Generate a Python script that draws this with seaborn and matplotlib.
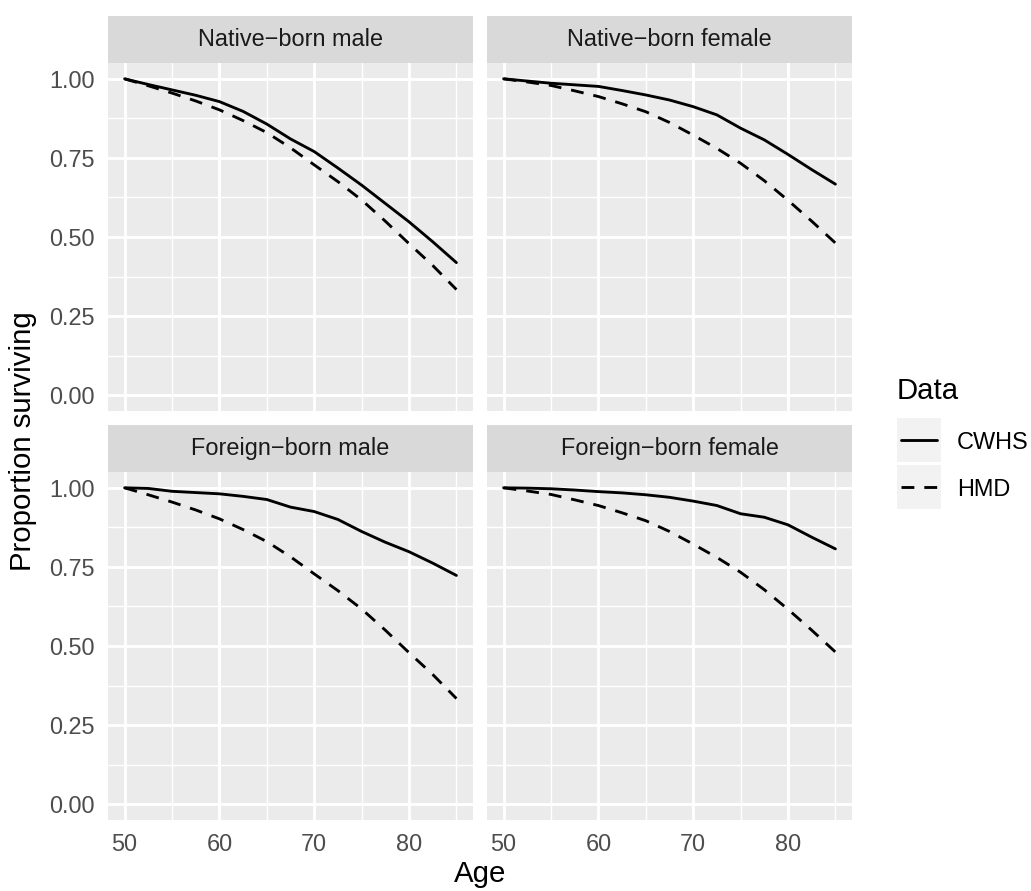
import numpy as np
import pandas as pd
import matplotlib
matplotlib.use("Agg")
import matplotlib.pyplot as plt
from matplotlib.lines import Line2D
from matplotlib.patches import Rectangle
import seaborn as sns

# ---------------- data ----------------
ages = [50, 52.5, 55, 57.5, 60, 62.5, 65, 67.5, 70, 72.5, 75, 77.5, 80, 82.5, 85]

hmd_male = [1.0, 0.978, 0.955, 0.930, 0.902, 0.868, 0.830, 0.782, 0.728, 0.675, 0.617, 0.550, 0.479, 0.410, 0.334]
hmd_female = [1.0, 0.990, 0.979, 0.962, 0.944, 0.921, 0.896, 0.862, 0.822, 0.780, 0.733, 0.678, 0.616, 0.550, 0.481]

cwhs_native_male = [1.0, 0.982, 0.965, 0.948, 0.928, 0.897, 0.857, 0.810, 0.770, 0.718, 0.664, 0.606, 0.548, 0.485, 0.419]
cwhs_native_female = [1.0, 0.993, 0.986, 0.981, 0.976, 0.963, 0.949, 0.933, 0.912, 0.886, 0.844, 0.807, 0.761, 0.713, 0.667]
cwhs_foreign_male = [1.0, 0.998, 0.989, 0.985, 0.981, 0.973, 0.963, 0.939, 0.925, 0.900, 0.862, 0.828, 0.798, 0.762, 0.723]
cwhs_foreign_female = [1.0, 0.999, 0.997, 0.993, 0.988, 0.984, 0.978, 0.970, 0.958, 0.944, 0.918, 0.907, 0.883, 0.844, 0.807]

panels = ["Native\u2212born male", "Native\u2212born female",
          "Foreign\u2212born male", "Foreign\u2212born female"]
cwhs_series = [cwhs_native_male, cwhs_native_female, cwhs_foreign_male, cwhs_foreign_female]
hmd_series = [hmd_male, hmd_female, hmd_male, hmd_female]

x_ticks = [50, 60, 70, 80]
y_ticks = [0.0, 0.25, 0.5, 0.75, 1.0]
y_tick_labels = ["0.00", "0.25", "0.50", "0.75", "1.00"]

rows = []
for p, c, h in zip(panels, cwhs_series, hmd_series):
    for a, v in zip(ages, c):
        rows.append((p, "CWHS", a, v))
    for a, v in zip(ages, h):
        rows.append((p, "HMD", a, v))
df = pd.DataFrame(rows, columns=["Panel", "Data", "Age", "Proportion"])

# ---------------- style ----------------
sns.set_style("white")
plt.rcParams["font.family"] = ["Liberation Sans", "DejaVu Sans"]
plt.rcParams["lines.solid_capstyle"] = "round"

W, H, DPI = 1031, 891, 150
fig = plt.figure(figsize=(W / DPI, H / DPI), dpi=DPI)
fig.patch.set_facecolor("white")

S = 1.28  # ggplot scale factor
small = 8.8 * S
large = 11 * S
lw = 1.07 * S

def fx(px):
    return px / W

def fy(py):
    return 1 - py / H

col_x = [(108, 473), (487, 852)]
row_y = [(63, 411), (472, 820)]
strip_y = [(16, 63), (425, 472)]

dashes = {"CWHS": "", "HMD": (4.5, 3.5)}

for i, p in enumerate(panels):
    r, c = divmod(i, 2)
    x0, x1 = col_x[c]
    y0, y1 = row_y[r]
    ax = fig.add_axes([fx(x0), fy(y1), fx(x1 - x0), (y1 - y0) / H])
    ax.set_facecolor("#EBEBEB")
    sub = df[df["Panel"] == p]
    sns.lineplot(data=sub, x="Age", y="Proportion", style="Data",
                 dashes=dashes, color="black", linewidth=lw,
                 legend=False, ax=ax, estimator=None, sort=False)
    for ln in ax.get_lines():
        ln.set_solid_joinstyle("round")
    ax.set_xlim(48.25, 86.75)
    ax.set_ylim(-0.05, 1.05)
    ax.set_xticks(x_ticks)
    ax.set_xticks([55, 65, 75, 85], minor=True)
    ax.set_yticks(y_ticks)
    ax.set_yticks([0.125, 0.375, 0.625, 0.875], minor=True)
    ax.grid(which="major", color="white", linewidth=lw)
    ax.grid(which="minor", color="white", linewidth=lw / 2)
    ax.set_axisbelow(True)
    for s in ax.spines.values():
        s.set_visible(False)
    ax.set_xlabel("")
    ax.set_ylabel("")
    ax.tick_params(which="minor", length=0)
    ax.tick_params(which="major", length=2.75 * S, width=lw, color="#333333",
                   labelsize=small, labelcolor="#4D4D4D", pad=2.2 * S)
    if r == 0:
        ax.tick_params(axis="x", which="major", length=0, labelbottom=False)
    else:
        ax.set_xticklabels([str(t) for t in x_ticks])
    if c == 1:
        ax.tick_params(axis="y", which="major", length=0, labelleft=False)
    else:
        ax.set_yticklabels(y_tick_labels)

    # strip
    sy0, sy1 = strip_y[r]
    sax = fig.add_axes([fx(x0), fy(sy1), fx(x1 - x0), (sy1 - sy0) / H])
    sax.set_facecolor("#D9D9D9")
    sax.set_xticks([])
    sax.set_yticks([])
    for s in sax.spines.values():
        s.set_visible(False)
    sax.text(0.5, 0.5, p, ha="center", va="center", fontsize=small,
             color="#1A1A1A", transform=sax.transAxes)

# axis titles
fig.text(fx((108 + 852) / 2), fy(882), "Age", ha="center", va="baseline",
         fontsize=large, color="black")
fig.text(fx(23), fy((63 + 820) / 2), "Proportion surviving", ha="center",
         va="center", rotation=90, fontsize=large, color="black")

# legend
fig.text(fx(897), fy(399), "Data", ha="left", va="baseline", fontsize=large,
         color="black")
for k, (lab, ds) in enumerate([("CWHS", "-"), ("HMD", (0, (4.5, 3.5)))]):
    ky0 = 418 + k * 47
    ky1 = ky0 + 44
    rect = Rectangle((fx(897), fy(ky1)), fx(44), (ky1 - ky0) / H,
                     transform=fig.transFigure, facecolor="#F2F2F2",
                     edgecolor="none")
    fig.add_artist(rect)
    ym = fy((ky0 + ky1) / 2)
    ln = Line2D([fx(901), fx(937)], [ym, ym], transform=fig.transFigure,
                color="black", linewidth=lw, linestyle=ds)
    fig.add_artist(ln)
    fig.text(fx(957), fy(ky1 - 13), lab, ha="left", va="baseline",
             fontsize=small, color="black")

fig.savefig("out.png", dpi=DPI)
